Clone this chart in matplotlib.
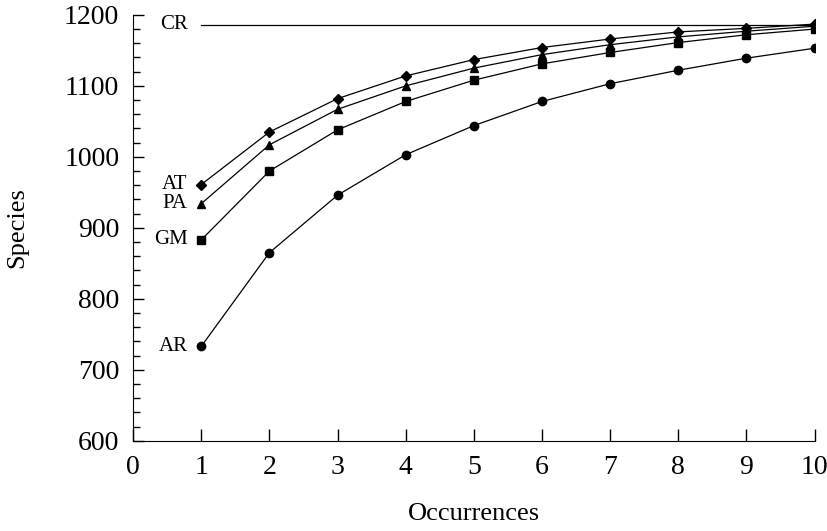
import matplotlib.pyplot as plt
from matplotlib.ticker import MultipleLocator

plt.rcParams['font.family'] = ['Liberation Serif', 'DejaVu Serif']

# данные
occ = [1, 2, 3, 4, 5, 6, 7, 8, 9, 10]
cr = [1186, 1186, 1186, 1186, 1186, 1186, 1186, 1186, 1186, 1186]
at = [961, 1035, 1082, 1114, 1137, 1154, 1166, 1176, 1181, 1187]
pa = [934, 1017, 1067, 1100, 1125, 1144, 1158, 1169, 1177, 1184]
gm = [883, 980, 1038, 1078, 1108, 1131, 1147, 1161, 1172, 1180]
ar = [733, 865, 946, 1003, 1044, 1078, 1103, 1122, 1139, 1153]

series = [('CR', cr, None), ('AT', at, 'D'), ('PA', pa, '^'), ('GM', gm, 's'), ('AR', ar, 'o')]

fig = plt.figure(figsize=(8.27, 5.31), dpi=100)
ax = fig.add_axes([0.161, 0.17, 0.824, 0.802])

for name, ys, m in series:
    ms = 5 if m == 'D' else 6
    ax.plot(occ, ys, color='black', linewidth=0.9, marker=m, markersize=ms)
    ax.text(0.8, ys[0], name, ha='right', va='center', fontsize=15)

ax.set_xlim(0, 10)
ax.set_ylim(600, 1200)
ax.xaxis.set_major_locator(MultipleLocator(1))
ax.yaxis.set_major_locator(MultipleLocator(100))
ax.yaxis.set_minor_locator(MultipleLocator(20))
ax.tick_params(axis='both', direction='in', labelsize=20, width=1)
ax.tick_params(axis='y', which='major', length=8, pad=10)
ax.tick_params(axis='y', which='minor', length=5, width=1, direction='in')
ax.tick_params(axis='x', which='major', length=9, pad=10)
ax.spines['top'].set_visible(False)
ax.spines['right'].set_visible(False)

ax.set_xlabel('Occurrences', fontsize=19, labelpad=17)
ax.set_ylabel('Species', fontsize=19, labelpad=26)

plt.savefig('out.png', dpi=100)
